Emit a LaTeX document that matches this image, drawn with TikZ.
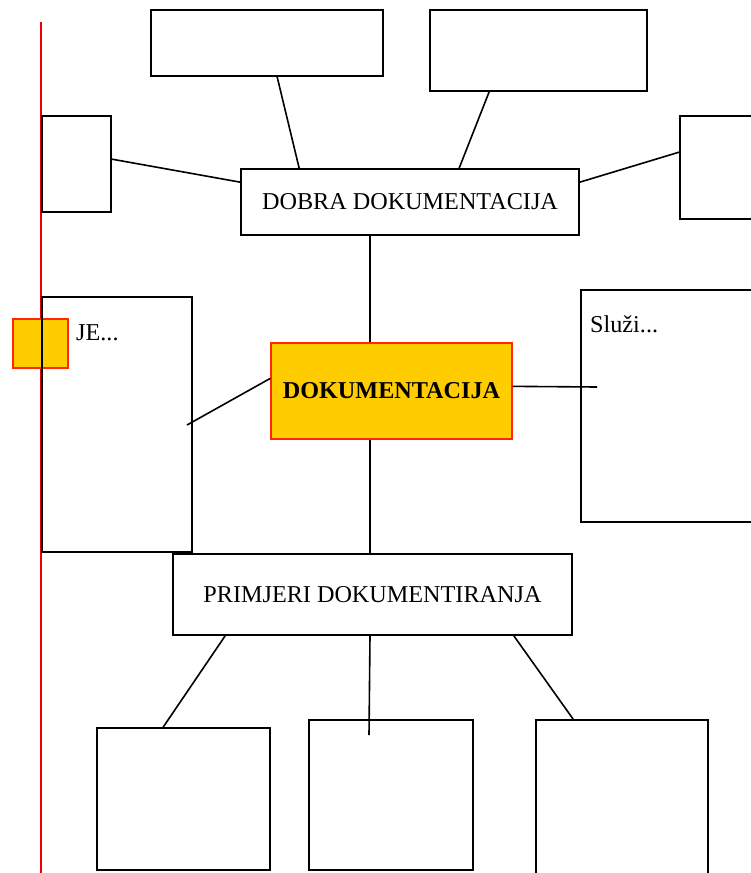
\documentclass[tikz,border=0pt]{standalone}
\usepackage{fontspec}
\setmainfont{Liberation Serif}
\definecolor{gold}{RGB}{255,204,0}
\definecolor{edgered}{RGB}{255,40,0}
\definecolor{linered}{RGB}{235,0,0}
\begin{document}
\begin{tikzpicture}[x=1pt,y=-1pt,
  box/.style={draw=black,line width=1.7pt,rectangle,inner sep=0pt},
  hot/.style={draw=edgered,line width=1.3pt,fill=gold,rectangle,inner sep=0pt},
  link/.style={draw=black,line width=1.6pt},
  txt/.style={font=\fontsize{24.2}{28}\selectfont}]
\useasboundingbox (0,0) rectangle (751,873);
\clip (0,0) rectangle (751,873);
% red margin line
\coordinate (rtop) at (41,22);
\coordinate (rbot) at (41,873);
\draw[linered,line width=2.2pt] (rtop) -- (rbot);
% small orange square
\node[hot,minimum width=55pt,minimum height=49pt] (sq) at (40.5,343.5) {};
% boxes
\node[box,minimum width=232pt,minimum height=66pt] (tl) at (267,43) {};
\node[box,minimum width=217pt,minimum height=81pt] (tr) at (538.5,50.5) {};
\node[box,minimum width=69pt,minimum height=96pt] (ls) at (76.5,164) {};
\node[box,minimum width=90pt,minimum height=103pt] (rs) at (725,167.5) {};
\node[box,minimum width=338pt,minimum height=66pt,txt] (dobra) at (410,202) {DOBRA DOKUMENTACIJA};
\node[box,minimum width=150pt,minimum height=255pt] (je) at (117,424.5) {};
\node[txt,anchor=base west,inner sep=0pt] (jet) at (76,340) {JE...};
\node[hot,minimum width=241pt,minimum height=96pt,font=\fontsize{24.2}{28}\selectfont\bfseries] (dok) at (391.5,391) {DOKUMENTACIJA};
\node[box,minimum width=189pt,minimum height=232pt] (sl) at (675.5,406) {};
\node[txt,anchor=base west,inner sep=0pt] (slt) at (590,332) {Služi...};
\node[box,minimum width=399pt,minimum height=81pt,txt] (prim) at (372.5,594.5) {PRIMJERI DOKUMENTIRANJA};
\node[box,minimum width=173pt,minimum height=142pt] (b1) at (183.5,799) {};
\node[box,minimum width=164pt,minimum height=150pt] (b2) at (391,795) {};
\node[box,minimum width=172pt,minimum height=170pt] (b3) at (622,805) {};
% connectors
\draw[link] ([xshift=127pt]tl.south west) -- ([xshift=59pt]dobra.north west);
\draw[link] ([xshift=60pt]tr.south west) -- ([xshift=219pt]dobra.north west);
\draw[link] ([yshift=-44pt]ls.north east) -- ([yshift=-14pt]dobra.north west);
\draw[link] ([yshift=-37pt]rs.north west) -- ([yshift=-14pt]dobra.north east);
\draw[link] ([xshift=-40pt]dobra.south) -- ([xshift=-21.5pt]dok.north);
\coordinate (jein) at (187,425);
\draw[link] (jein) -- ([yshift=-36pt]dok.north west);
\coordinate (slin) at (597,387);
\draw[link] ([yshift=-44pt]dok.north east) -- (slin);
\draw[link] ([xshift=-21.5pt]dok.south) -- ([xshift=-2.5pt]prim.north);
\draw[link] ([xshift=53pt]prim.south west) -- ([xshift=67pt]b1.north west);
\coordinate (b2in) at (369,735);
\draw[link] ([xshift=-2.5pt]prim.south) -- (b2in);
\draw[link] ([xshift=-59pt]prim.south east) -- ([xshift=38pt]b3.north west);
\end{tikzpicture}
\end{document}
